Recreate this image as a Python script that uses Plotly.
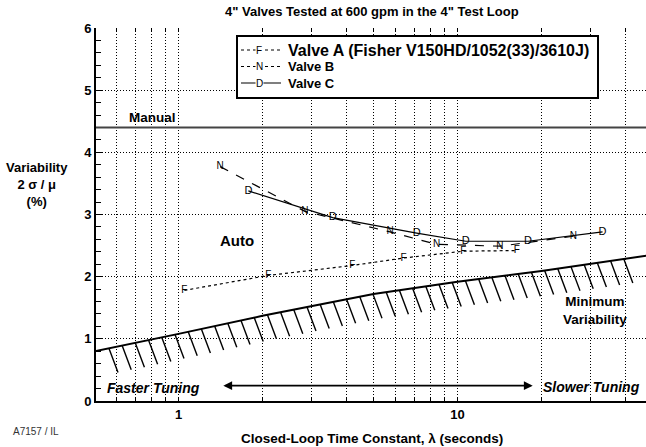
import numpy as np
import plotly.graph_objects as go

# ---------------- data ----------------
chart_title = '4" Valves Tested at 600 gpm in the 4" Test Loop'
valve_a_name = "Valve A (Fisher V150HD/1052(33)/3610J)"
valve_b_name = "Valve B"
valve_c_name = "Valve C"
valve_a_x = [1.05, 2.1, 4.2, 6.4, 10.5, 16.3]
valve_a_y = [1.78, 2.02, 2.18, 2.30, 2.41, 2.42]
valve_b_x = [1.41, 2.84, 5.73, 8.42, 14.2, 26.0]
valve_b_y = [3.77, 3.05, 2.72, 2.52, 2.49, 2.65]
valve_c_x = [1.78, 3.57, 7.14, 10.7, 17.9, 33.1]
valve_c_y = [3.38, 2.95, 2.70, 2.57, 2.57, 2.72]
min_var_x = [0.5, 0.7, 1, 2, 5, 10, 20, 50]
min_var_y = [0.80, 0.93, 1.08, 1.37, 1.72, 1.92, 2.09, 2.35]
manual_level = 4.4
x_tick_vals = [0.6, 0.7, 0.8, 0.9, 1, 2, 3, 4, 5, 6, 7, 8, 9, 10, 20, 30, 40]
x_tick_text = ["", "", "", "", "1", "", "", "", "", "", "", "", "", "10", "", "", ""]
y_tick_vals = [0, 1, 2, 3, 4, 5, 6]
y_tick_text = ["0", "1", "2", "3", "4", "5", "6"]
arrow_from, arrow_to, arrow_level = 1.43, 18.6, 0.247

# ---------------- geometry / style ----------------
W, H = 646, 447
L, R, T, B = 96, 646, 28, 401
X_RANGE = [-0.2957, 1.6756]
Y_RANGE = [0, 6]
px_per_dec = (R - L) / (X_RANGE[1] - X_RANGE[0])
px_per_unit = (B - T) / (Y_RANGE[1] - Y_RANGE[0])
FONT = "Liberation Sans, Arial, sans-serif"
DOTS = "1px,2px"


def px(xp):
    return (xp - L) / (R - L)


def py(yp):
    return (B - yp) / (B - T)


fig = go.Figure()

# Minimum variability boundary with hatches
lx = np.log10(min_var_x)
fig.add_trace(go.Scatter(x=min_var_x, y=min_var_y, mode="lines",
                         line=dict(color="black", width=2), hoverinfo="skip"))
hatch_step = 13.2 / px_per_dec
hatch_dx = 9.0 / px_per_dec
hatch_dy = -24.0 / px_per_unit
starts = np.arange(X_RANGE[0] + 13.0 / px_per_dec, X_RANGE[1] - hatch_dx, hatch_step)
hx, hy = [], []
for s in starts:
    y0 = float(np.interp(s, lx, min_var_y))
    hx += [10 ** s, 10 ** (s + hatch_dx), None]
    hy += [y0, y0 + hatch_dy, None]
fig.add_trace(go.Scatter(x=hx, y=hy, mode="lines",
                         line=dict(color="black", width=1.4), hoverinfo="skip"))

# Manual level
fig.add_hline(y=manual_level, line=dict(color="#444", width=2))

# Valve series
for xs, ys, letter, dash, size in [
    (valve_a_x, valve_a_y, "F", "dot", 10),
    (valve_b_x, valve_b_y, "N", "dash", 10),
    (valve_c_x, valve_c_y, "D", "solid", 11),
]:
    fig.add_trace(go.Scatter(
        x=xs, y=ys, mode="lines+text", text=[letter] * len(xs),
        textposition="middle center",
        textfont=dict(family=FONT, size=size, color="black"),
        line=dict(color="black", width=1.2, dash=dash), hoverinfo="skip"))

for tr in fig.data:
    tr.showlegend = False

# ---------------- axes ----------------
fig.update_layout(
    width=W, height=H,
    margin=dict(l=L, r=W - R, t=T, b=H - B, pad=0),
    paper_bgcolor="white", plot_bgcolor="white",
    font=dict(family=FONT, color="black"),
    showlegend=False,
    xaxis=dict(type="log", range=X_RANGE, tickvals=x_tick_vals, ticktext=x_tick_text,
               ticks="inside", ticklen=4, tickcolor="black",
               showgrid=True, gridcolor="black", griddash=DOTS, gridwidth=1,
               showline=True, linecolor="black", linewidth=2, zeroline=False,
               tickfont=dict(size=13, weight="bold")),
    xaxis2=dict(type="log", range=X_RANGE, overlaying="x", side="top",
                tickvals=x_tick_vals, ticks="inside", ticklen=4, tickcolor="black",
                showticklabels=False, showgrid=False, showline=False, zeroline=False),
    yaxis=dict(range=Y_RANGE, tickvals=y_tick_vals, ticktext=y_tick_text,
               ticks="inside", ticklen=6, tickcolor="black",
               minor=dict(dtick=0.2, ticks="inside", ticklen=5, tickcolor="black", showgrid=False),
               showgrid=True, gridcolor="black", griddash=DOTS, gridwidth=1,
               showline=True, linecolor="black", linewidth=2, zeroline=False,
               tickfont=dict(size=13, weight="bold")),
)
fig.add_trace(go.Scatter(x=[1], y=[None], xaxis="x2", showlegend=False, hoverinfo="skip"))

# ---------------- text / annotations ----------------
def ann(text, x, y, size, weight="bold", style="normal", xref="paper", yref="paper", color="black", align="center"):
    fig.add_annotation(text=text, x=x, y=y, xref=xref, yref=yref, showarrow=False,
                       xanchor="center", yanchor="middle", align=align,
                       font=dict(family=FONT, size=size, weight=weight, style=style, color=color))

ann(chart_title, px(372), py(12), 13)
ann("Closed-Loop Time Constant, λ (seconds)", px(372), py(438), 13.5)
ann("Variability<br>2 σ / μ<br>(%)", px(37), py(185), 13)
ann("A7157 / IL", px(36), py(431), 10, weight="normal", color="#333")
ann("Manual", px(152), py(117), 13.5)
ann("Auto", px(236.5), py(241), 15)
ann("Minimum<br>Variability", px(595), py(310), 13.5)
ann("Faster Tuning", px(153.5), py(387.5), 14, style="italic")
ann("Slower Tuning", px(591), py(387), 14, style="italic")

fig.add_annotation(x=np.log10(arrow_to), y=arrow_level, ax=np.log10(arrow_from), ay=arrow_level,
                   xref="x", yref="y", axref="x", ayref="y", text="", showarrow=True,
                   arrowside="end+start", arrowhead=2, arrowsize=1.1, arrowwidth=1.6,
                   arrowcolor="black")

# ---------------- legend (drawn manually) ----------------
fig.add_shape(type="rect", xref="paper", yref="paper",
              x0=px(237), x1=px(598), y0=py(98), y1=py(36),
              line=dict(color="black", width=2), fillcolor="white", layer="above")
rows = [(valve_a_name, "F", "dot", 50, 16), (valve_b_name, "N", "dot", 66.5, 13),
        (valve_c_name, "D", "solid", 83, 13)]
for name, letter, dash, yy, fs in rows:
    fig.add_shape(type="line", xref="paper", yref="paper",
                  x0=px(241), x1=px(281), y0=py(yy), y1=py(yy),
                  line=dict(color="black", width=1.2, dash=dash), layer="above")
    fig.add_annotation(text=letter, x=px(259), y=py(yy), xref="paper", yref="paper",
                       showarrow=False, xanchor="center", yanchor="middle",
                       bgcolor="white", borderpad=0,
                       font=dict(family=FONT, size=10, color="black"))
    fig.add_annotation(text=name, x=px(286), y=py(yy), xref="paper", yref="paper",
                       showarrow=False, xanchor="left", yanchor="middle",
                       font=dict(family=FONT, size=fs, weight="bold", color="black"))

fig.write_html("out.html", config={"displayModeBar": False},
               post_script="document.body.style.margin='0';document.body.style.overflow='hidden';")
